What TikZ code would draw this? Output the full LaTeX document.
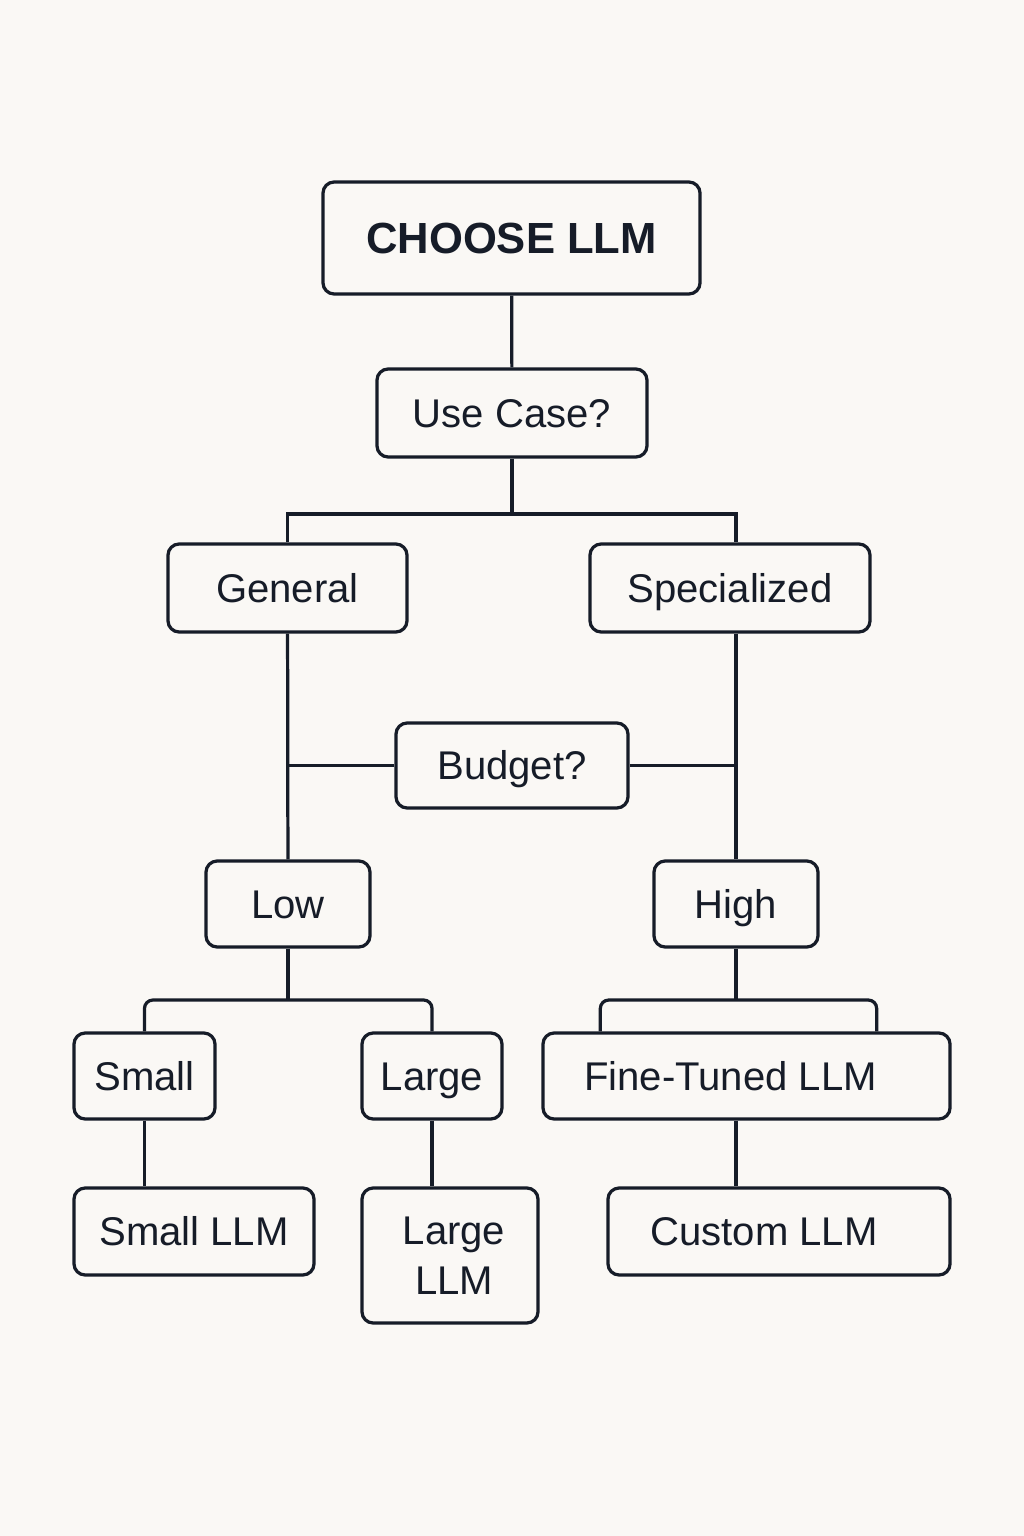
\documentclass[tikz,border=0pt]{standalone}
\usepackage{fontspec}
\setmainfont{Liberation Sans}
\usepackage{xcolor}
\usepackage{tikz}
\usetikzlibrary{positioning, calc}
\definecolor{inkblue}{RGB}{22, 28, 40}
\definecolor{paper}{RGB}{250, 248, 245}

\begin{document}
\begin{tikzpicture}[
    x=0.025cm, y=-0.025cm,
    box/.style={rectangle, rounded corners=8pt, draw=inkblue, line width=2.3pt, inner sep=0pt, align=center, text=inkblue, font=\fontsize{28.5}{35.5}\selectfont, text height=26.4pt, text depth=6pt},
    tallbox/.style={rectangle, rounded corners=8pt, draw=inkblue, line width=2.3pt, inner sep=0pt, align=center, text=inkblue, font=\fontsize{28.5}{35.5}\selectfont},
    titlebox/.style={box, font=\fontsize{31}{36}\selectfont\bfseries, text height=22.2pt, text depth=0pt},
    link/.style={draw=inkblue, line width=2.3pt}
]
    \useasboundingbox[fill=paper] (0,0) rectangle (1024,1536);

    % Top
    \node[titlebox, minimum width=9.425cm, minimum height=2.8cm] (choose) at (511.5, 238) {CHOOSE LLM};
    \node[box, minimum width=6.75cm, minimum height=2.2cm] (usecase) at (512, 413) {Use Case?};

    % Use case
    \node[box, minimum width=5.975cm, minimum height=2.2cm] (general) at (287.5, 588) {General};
    \node[box, minimum width=7cm, minimum height=2.2cm] (specialized) at (730, 588) {Specialized};

    % Budget
    \node[box, minimum width=5.8cm, minimum height=2.125cm] (budget) at (512, 765.5) {Budget?};
    \node[box, minimum width=4.1cm, minimum height=2.15cm] (low) at (288, 904) {Low};
    \node[box, minimum width=4.1cm, minimum height=2.15cm] (high) at (736, 904) {High};

    % Size
    \node[box, minimum width=3.525cm, minimum height=2.15cm] (small) at (144.5, 1076) {Small};
    \node[box, minimum width=3.5cm, minimum height=2.15cm] (large) at (432, 1076) {Large};
    \node[box, minimum width=10.175cm, minimum height=2.15cm] (finetuned) at (746.5, 1076) {\hspace*{-0.8cm}Fine-Tuned LLM};

    % Models
    \node[box, minimum width=6cm, minimum height=2.175cm] (smallllm) at (194, 1231.5) {Small LLM};
    \node[tallbox, minimum width=4.4cm, minimum height=3.375cm] (largellm) at (450, 1255.5) {\hspace*{0.2cm}Large\\\hspace*{0.2cm}LLM};
    \node[box, minimum width=8.55cm, minimum height=2.175cm] (customllm) at (779, 1231.5) {\hspace*{-0.75cm}Custom LLM};

    % Split points
    \coordinate (split1) at (512, 514);
    \coordinate (split2) at (288, 1000);
    \coordinate (split3) at (736, 1000);

    % Lines
    \draw[link] (choose) -- (usecase);
    \draw[link] (usecase) -- (split1);
    \draw[link] (general.north) |- (split1) -| (high |- specialized.north);

    \draw[link] (general) -- (low);
    \draw[link] (high |- specialized.south) -- (high);
    \draw[link] (budget) -- (budget -| general);
    \draw[link] (budget) -- (budget -| high);

    \draw[link] (low) -- (split2);
    \draw[link, rounded corners=6pt] (small.north) |- (split2) -| (large.north);
    \draw[link] (high) -- (split3);
    \draw[link, rounded corners=6pt] ($(finetuned.north west)+(59,0)$) |- (split3) -| ($(finetuned.north east)+(-75,0)$);

    \draw[link] (small) -- (small |- smallllm.north);
    \draw[link] (large) -- (large |- largellm.north);
    \draw[link] (high |- finetuned.south) -- (high |- customllm.north);

\end{tikzpicture}
\end{document}
